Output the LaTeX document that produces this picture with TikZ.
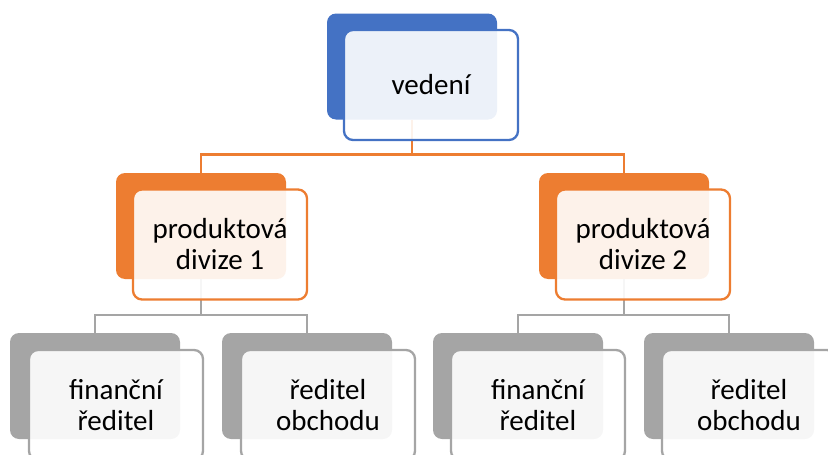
\documentclass[tikz,border=0pt]{standalone}
\usepackage{fontspec}
\setmainfont{Carlito}
\usepackage{xcolor}
\usetikzlibrary{positioning,calc}
\definecolor{blueacc}{HTML}{4472C4}
\definecolor{orangeacc}{HTML}{ED7D31}
\definecolor{greyacc}{HTML}{A5A5A5}

\begin{document}
\begin{tikzpicture}[x=1pt, y=1pt,
    backbox/.style={rectangle, rounded corners=9pt, minimum width=170pt, minimum height=106pt, inner sep=0pt},
    frontbox/.style={rectangle, rounded corners=9pt, draw=#1, line width=2.3pt, fill=white, fill opacity=0.9, text opacity=1, minimum width=174pt, minimum height=110pt, inner sep=0pt, align=center, font=\fontsize{29}{31}\selectfont},
    link/.style={line width=2.5pt, draw=#1}]
    \useasboundingbox (0,0) rectangle (828,-455);
    \clip (0,0) rectangle (828,-455);

    % Back boxes
    \node[backbox, fill=blueacc] (topb) at (412,-66.5) {};
    \node[backbox, fill=orangeacc] (div1b) at (201,-226) {};
    \node[backbox, fill=orangeacc] (div2b) at (624,-226) {};
    \node[backbox, fill=greyacc] (fin1b) at (95,-386) {};
    \node[backbox, fill=greyacc] (obch1b) at (307,-386) {};
    \node[backbox, fill=greyacc] (fin2b) at (518,-386) {};
    \node[backbox, fill=greyacc] (obch2b) at (729,-386) {};

    % Connectors
    \draw[link=orangeacc] (topb.south) -- ++(0,-35) -| (div1b.north);
    \draw[link=orangeacc] (topb.south) -- ++(0,-35) -| (div2b.north);
    \draw[link=greyacc] (div1b.south) -- ++(0,-36) -| (fin1b.north);
    \draw[link=greyacc] (div1b.south) -- ++(0,-36) -| (obch1b.north);
    \draw[link=greyacc] (div2b.south) -- ++(0,-36) -| (fin2b.north);
    \draw[link=greyacc] (div2b.south) -- ++(0,-36) -| (obch2b.north);

    % Front boxes
    \node[frontbox=blueacc] (top) at ($(topb)+(19,-18.5)$) {vedení};
    \node[frontbox=orangeacc] (div1) at ($(div1b)+(19,-18.5)$) {produktová\\divize 1};
    \node[frontbox=orangeacc] (div2) at ($(div2b)+(19,-18.5)$) {produktová\\divize 2};
    \node[frontbox=greyacc] (fin1) at ($(fin1b)+(21,-19)$) {finanční\\ředitel};
    \node[frontbox=greyacc] (obch1) at ($(obch1b)+(21,-19)$) {ředitel\\obchodu};
    \node[frontbox=greyacc] (fin2) at ($(fin2b)+(20,-19)$) {finanční\\ředitel};
    \node[frontbox=greyacc] (obch2) at ($(obch2b)+(20,-19)$) {ředitel\\obchodu};
\end{tikzpicture}
\end{document}
